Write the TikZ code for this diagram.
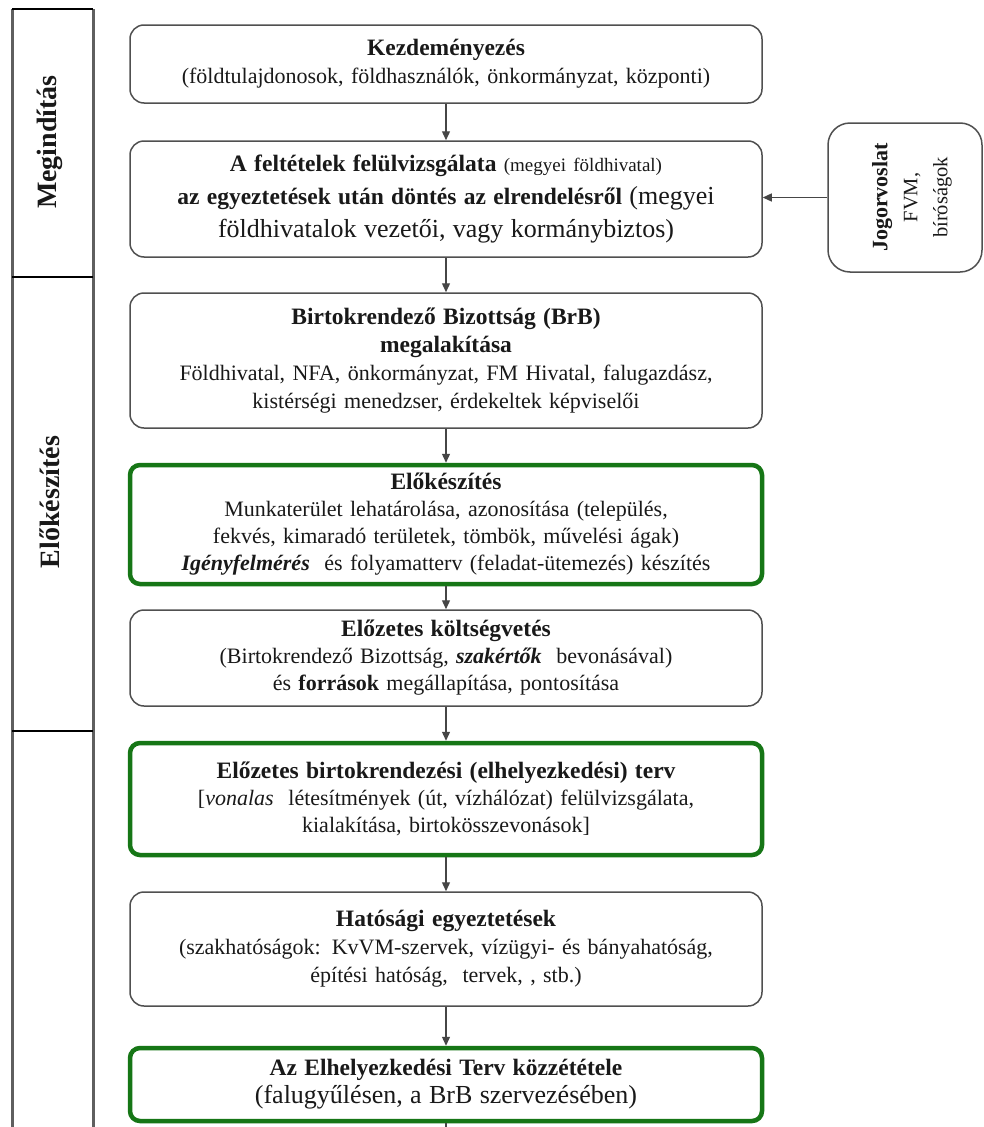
\documentclass[tikz,border=0pt]{standalone}
\usepackage{fontspec}
\setmainfont{Liberation Serif}
\usetikzlibrary{arrows.meta}
\definecolor{boxgray}{RGB}{80,80,80}
\definecolor{boxgreen}{RGB}{22,118,22}
\definecolor{linegray}{RGB}{70,70,70}
\definecolor{colgray}{RGB}{95,95,95}
\definecolor{txt}{RGB}{25,25,25}
\newcommand{\hdf}{\fontsize{23.5}{28}\selectfont\bfseries}
\newcommand{\bgf}{\fontsize{26}{33}\selectfont}
\newcommand{\smf}{\fontsize{19}{28}\selectfont}
\begin{document}
\begin{tikzpicture}[x=1pt,y=-1pt,
  gbox/.style={draw=boxgray, line width=1.5pt, rounded corners=14pt, fill=white,
    minimum width=632pt, text width=624pt, align=center, inner sep=0pt,
    text=txt, font=\fontsize{22}{28}\selectfont},
  greenbox/.style={gbox, draw=boxgreen, line width=4.5pt, rounded corners=10pt},
  arr/.style={draw=linegray, line width=1.3pt, -{Triangle[length=9pt,width=8pt]}},
  plainline/.style={draw=linegray, line width=1.3pt},
  colline/.style={draw=colgray, line width=3pt},
  divline/.style={draw=black, line width=2.2pt},
  sidelabel/.style={rotate=90, text=txt, font=\fontsize{28}{32}\selectfont\bfseries}
]
\fill[white] (0,0) rectangle (984,1127);
\useasboundingbox (0,0) rectangle (984,1127);

% left phase column
\draw[colline] (12,9) -- (12,1127);
\draw[colline] (93,9) -- (93,1127);
\draw[divline] (12,9) -- (93,9);
\draw[divline] (12,277) -- (93,277);
\draw[divline] (12,731) -- (93,731);
\node[sidelabel] (ph1) at (50,142) {Megindítás};
\node[sidelabel] (ph2) at (50,502) {Előkészítés};

% main boxes
\node[gbox, minimum height=78pt] (b1) at (446,64)
  {{\hdf Kezdeményezés}\\(földtulajdonosok, földhasználók, önkormányzat, központi)};

\node[gbox, minimum height=116pt, font=\fontsize{22}{33}\selectfont] (b2) at (446,199)
  {{\hdf A feltételek felülvizsgálata} {\smf(megyei földhivatal)}\\
   {\hdf az egyeztetések után döntés az elrendelésről} {\bgf(megyei}\\
   {\bgf földhivatalok vezetői, vagy kormánybiztos)}};

\node[gbox, minimum height=135pt] (b3) at (446,360.5)
  {{\hdf Birtokrendező Bizottság (BrB)}\\{\hdf megalakítása}\\
   Földhivatal, NFA, önkormányzat, FM Hivatal, falugazdász,\\
   kistérségi menedzser, érdekeltek képviselői};

\node[greenbox, minimum height=119pt, font=\fontsize{22}{27}\selectfont] (b4) at (446,524.5)
  {{\hdf Előkészítés}\\
   Munkaterület lehatárolása, azonosítása (település,\\
   fekvés, kimaradó területek, tömbök, művelési ágak)\\
   \textbf{\textit{Igényfelmérés}}\ \ és folyamatterv (feladat-ütemezés) készítés};

\node[gbox, minimum height=96pt, font=\fontsize{22}{27}\selectfont] (b5) at (446,658)
  {{\hdf Előzetes költségvetés}\\
   (Birtokrendező Bizottság, \textbf{\textit{szakértők}}\ \ bevonásával)\\
   és \textbf{források} megállapítása, pontosítása};

\node[greenbox, minimum height=112pt, font=\fontsize{22}{27}\selectfont] (b6) at (446,799)
  {{\hdf Előzetes birtokrendezési (elhelyezkedési) terv}\\{}%
   [\textit{vonalas}\ \ létesítmények (út, vízhálózat) felülvizsgálata,\\
   kialakítása, birtokösszevonások]};

\node[gbox, minimum height=114pt] (b7) at (446,949)
  {{\hdf Hatósági egyeztetések}\\
   (szakhatóságok: KvVM-szervek, vízügyi- és bányahatóság,\\
   építési hatóság,\ \ tervek, , stb.)};

\node[greenbox, minimum height=73pt] (b8) at (446,1084.5)
  {{\hdf Az Elhelyezkedési Terv közzététele}\\
   {\bgf(falugyűlésen, a BrB szervezésében)}};

% side box and its rotated text
\node[draw=boxgray, line width=1.5pt, rounded corners=22pt, fill=white,
      minimum width=154pt, minimum height=149pt, inner sep=0pt] (jog) at (905,197.5) {};
\node[rotate=90, inner sep=0pt, align=center, text=txt,
      font=\fontsize{20.5}{30}\selectfont] (jogtext) at (912,197.5)
  {{\fontsize{22}{30}\selectfont\bfseries Jogorvoslat}\\FVM,\\bíróságok};

% connectors
\draw[arr] (b1) -- (b2);
\draw[arr] (b2) -- (b3);
\draw[arr] (b3) -- (b4);
\draw[arr] (b4) -- (b5);
\draw[arr] (b5) -- (b6);
\draw[arr] (b6) -- (b7);
\draw[arr] (b7) -- (b8);
\coordinate (bend) at (446,1127);
\draw[plainline] (b8) -- (bend);
\draw[arr] (jog.west) -- (jog.west -| b2.east);
\end{tikzpicture}
\end{document}
